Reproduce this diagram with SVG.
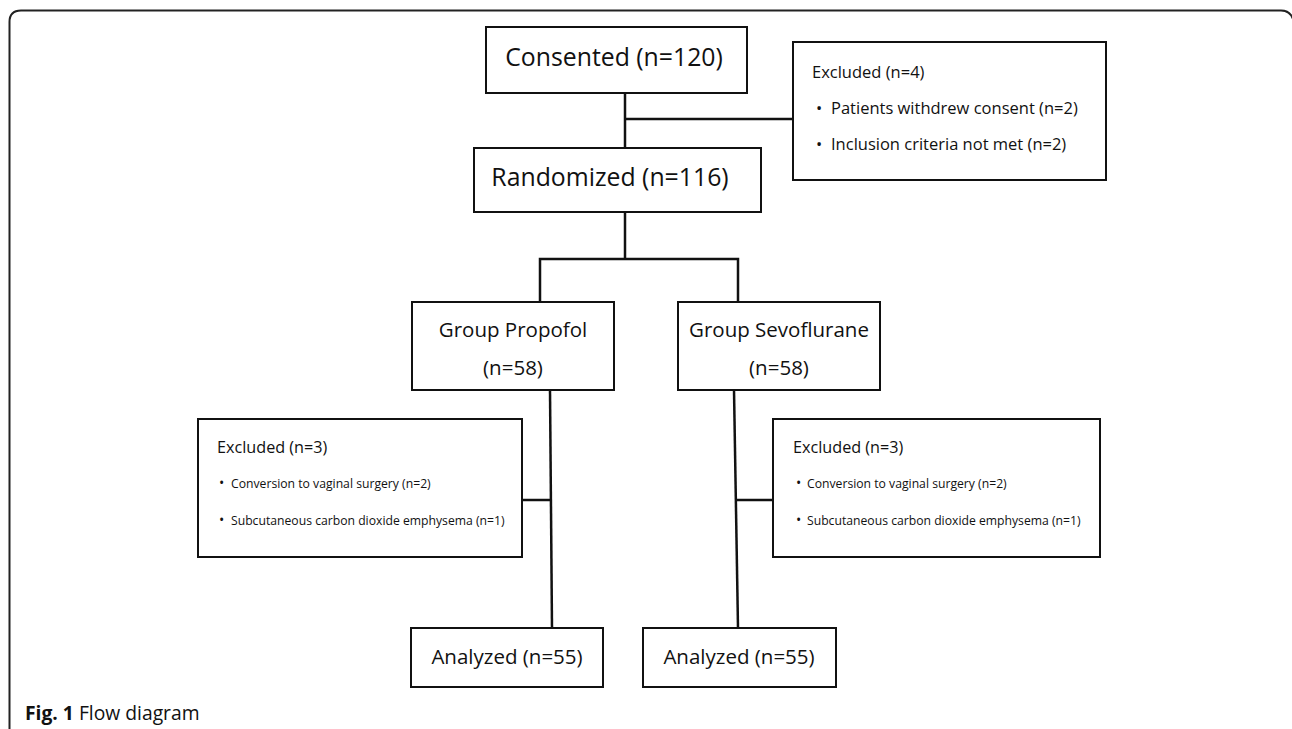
<svg xmlns="http://www.w3.org/2000/svg" width="1292" height="729" viewBox="0 0 1292 729">
<style>
.box{fill:#fff;stroke:#111;stroke-width:2}
.con{fill:none;stroke:#111;stroke-width:2.5}
text{font-family:"Open Sans","Noto Sans",sans-serif;fill:#111}
.big{font-size:24.8px}
.mid{font-size:20.5px}
.exr{font-size:16.5px}
.exh{font-size:16.2px}
.exs{font-size:12.2px}
.bul{font-size:14px}
</style>
<rect width="1292" height="729" fill="#fff"/>
<path d="M9.5 729 V22 Q9.5 10.5 21 10.5 H1281 Q1290 10.5 1293 19" fill="none" stroke="#222" stroke-width="2"/>
<g id="connectors">
<path class="con" d="M625 93 V148"/>
<path class="con" d="M625 119 H793"/>
<path class="con" d="M625 212 V259"/>
<path class="con" d="M540 302 V259 H738 V302"/>
<path class="con" d="M550 390 L552 628"/>
<path class="con" d="M734 390 L738 628"/>
<path class="con" d="M522 500 H550"/>
<path class="con" d="M736 500 H773"/>
</g>
<g id="consented">
<rect class="box" x="486" y="27" width="261" height="66"/>
<text class="big" x="614" y="66" text-anchor="middle">Consented (n=120)</text>
</g>
<g id="excluded-top">
<rect class="box" x="793" y="42" width="313" height="138"/>
<text class="exr" x="812" y="78">Excluded (n=4)</text>
<text class="exr" x="816" y="114"><tspan>•</tspan><tspan x="831">Patients withdrew consent (n=2)</tspan></text>
<text class="exr" x="816" y="150"><tspan>•</tspan><tspan x="831">Inclusion criteria not met (n=2)</tspan></text>
</g>
<g id="randomized">
<rect class="box" x="474" y="148" width="287" height="64"/>
<text class="big" x="610" y="186" text-anchor="middle">Randomized (n=116)</text>
</g>
<g id="group-propofol">
<rect class="box" x="412" y="302" width="202" height="88"/>
<text class="mid" x="513" y="337" text-anchor="middle">Group Propofol</text>
<text class="mid" x="513" y="375" text-anchor="middle">(n=58)</text>
</g>
<g id="group-sevoflurane">
<rect class="box" x="678" y="302" width="202" height="88"/>
<text class="mid" x="779" y="337" text-anchor="middle">Group Sevoflurane</text>
<text class="mid" x="779" y="375" text-anchor="middle">(n=58)</text>
</g>
<g id="excluded-left">
<rect class="box" x="198" y="419" width="324" height="138"/>
<text class="exh" x="217" y="453">Excluded (n=3)</text>
<text class="exs" x="219" y="488"><tspan class="bul">•</tspan><tspan x="231">Conversion to vaginal surgery (n=2)</tspan></text>
<text class="exs" x="219" y="525"><tspan class="bul">•</tspan><tspan x="231">Subcutaneous carbon dioxide emphysema (n=1)</tspan></text>
</g>
<g id="excluded-right">
<rect class="box" x="773" y="419" width="327" height="138"/>
<text class="exh" x="793" y="453">Excluded (n=3)</text>
<text class="exs" x="796" y="488"><tspan class="bul">•</tspan><tspan x="807">Conversion to vaginal surgery (n=2)</tspan></text>
<text class="exs" x="796" y="525"><tspan class="bul">•</tspan><tspan x="807">Subcutaneous carbon dioxide emphysema (n=1)</tspan></text>
</g>
<g id="analyzed-left">
<rect class="box" x="411" y="628" width="192" height="59"/>
<text class="mid" x="507" y="664" text-anchor="middle">Analyzed (n=55)</text>
</g>
<g id="analyzed-right">
<rect class="box" x="643" y="628" width="193" height="59"/>
<text class="mid" x="739" y="664" text-anchor="middle">Analyzed (n=55)</text>
</g>
<g id="caption">
<text x="25" y="720" style="font-size:19.3px"><tspan style="font-weight:bold">Fig. 1</tspan> Flow diagram</text>
</g>
</svg>
